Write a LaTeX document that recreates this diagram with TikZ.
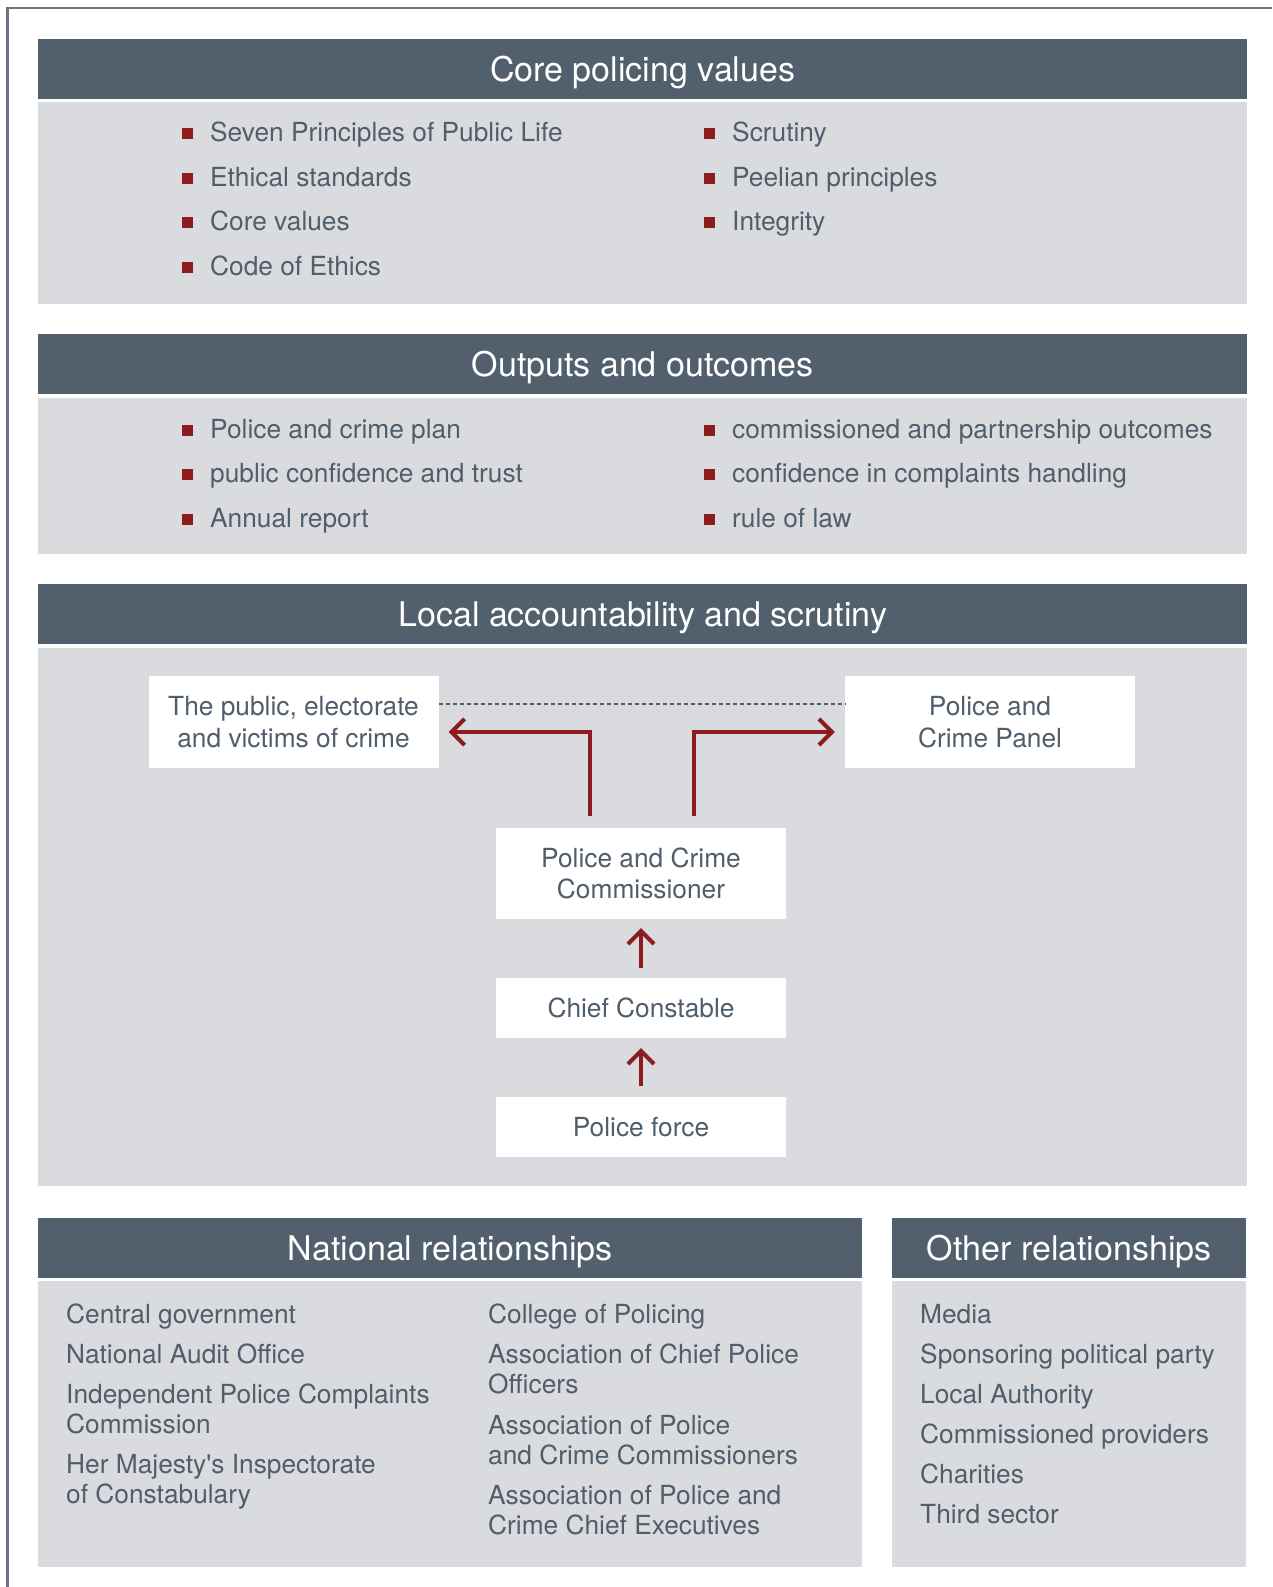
\documentclass[tikz,border=0pt]{standalone}
\usepackage{fontspec}
\setmainfont{TeX Gyre Heros}
\usetikzlibrary{arrows.meta,calc}
\definecolor{slate}{RGB}{80,94,108}
\definecolor{headgrey}{RGB}{82,96,110}
\definecolor{panelgrey}{RGB}{218,219,223}
\definecolor{polred}{RGB}{142,27,30}
\definecolor{framegrey}{RGB}{105,115,128}

\tikzset{
  headbar/.style={fill=headgrey, text=white, font=\fontsize{34}{38}\selectfont, inner sep=0pt, anchor=north west, minimum height=60pt, text height=24.5pt, text depth=0pt},
  panel/.style={fill=panelgrey, inner sep=0pt, anchor=north west},
  listtext/.style={text=slate, font=\fontsize{26.3}{30}\selectfont, inner sep=0pt, anchor=base west, align=left},
  whitebox/.style={fill=white, text=slate, font=\fontsize{26.3}{31.5}\selectfont, align=center, inner sep=0pt, minimum width=290pt},
  redarrow/.style={draw=polred, line width=4pt, -{Straight Barb[length=13pt,width=26pt]}},
}

\begin{document}
\begin{tikzpicture}[x=1pt,y=-1pt]
\useasboundingbox (0,0) rectangle (1272,1587);
\draw[framegrey, line width=2.5pt] (7.5,1587) |- (1272,8);

% core values
\node[headbar, minimum width=1209pt] (corehead) at (38,39) {Core policing values};
\node[panel, minimum width=1209pt, minimum height=202pt] (corebody) at (38,102) {};
\foreach \txt [count=\i from 0] in {Seven Principles of Public Life, Ethical standards, Core values, Code of Ethics} {
  \fill[polred] (181.5,{128+44.5*\i}) rectangle ++(11,11);
  \node[listtext] (corel\i) at (210,{141.7+44.5*\i}) {\txt};
}
\foreach \txt [count=\i from 0] in {Scrutiny, Peelian principles, Integrity} {
  \fill[polred] (703.5,{128+44.5*\i}) rectangle ++(11,11);
  \node[listtext] (corer\i) at (732,{141.7+44.5*\i}) {\txt};
}

% outputs
\node[headbar, minimum width=1209pt] (outhead) at (38,334) {Outputs and outcomes};
\node[panel, minimum width=1209pt, minimum height=156pt] (outbody) at (38,398) {};
\foreach \txt [count=\i from 0] in {Police and crime plan, public confidence and trust, Annual report} {
  \fill[polred] (181.5,{424.5+44.5*\i}) rectangle ++(11,11);
  \node[listtext] (outl\i) at (210,{438.2+44.5*\i}) {\txt};
}
\foreach \txt [count=\i from 0] in {commissioned and partnership outcomes, confidence in complaints handling, rule of law} {
  \fill[polred] (703.5,{424.5+44.5*\i}) rectangle ++(11,11);
  \node[listtext] (outr\i) at (732,{438.2+44.5*\i}) {\txt};
}

% local accountability
\node[headbar, minimum width=1209pt] (lochead) at (38,584) {Local accountability and scrutiny};
\node[panel, minimum width=1209pt, minimum height=538pt] (locbody) at (38,648) {};
\node[whitebox, minimum height=92pt] (pub) at (293.5,722) {The public, electorate\\and victims of crime};
\node[whitebox, minimum height=92pt] (pcp) at (990,722) {Police and\\Crime Panel};
\node[whitebox, minimum height=91pt] (pcc) at (641,873.5) {Police and Crime\\Commissioner};
\node[whitebox, minimum height=60pt] (cc) at (641,1008) {Chief Constable};
\node[whitebox, minimum height=60pt] (pf) at (641,1127) {Police force};
\draw[slate, dash pattern=on 4pt off 3pt, line width=2pt] ([yshift=18pt]pub.east) -- ([yshift=18pt]pcp.west);
\draw[redarrow] ([xshift=-51pt,yshift=12pt]pcc.north) |- ([xshift=10pt,yshift=-10pt]pub.east);
\draw[redarrow] ([xshift=53pt,yshift=12pt]pcc.north) |- ([xshift=-10pt,yshift=-10pt]pcp.west);
\draw[redarrow, shorten <=10pt, shorten >=9pt] (cc) -- (pcc);
\draw[redarrow, shorten <=11pt, shorten >=10pt] (pf) -- (cc);

% national and other
\node[headbar, minimum width=824pt] (nathead) at (38,1218) {National relationships};
\node[panel, minimum width=824pt, minimum height=286pt] (natbody) at (38,1281) {};
\node[headbar, minimum width=354pt] (othhead) at (892,1218) {Other relationships};
\node[panel, minimum width=354pt, minimum height=286pt] (othbody) at (892,1281) {};
\node[listtext] (nat1) at (66,1323.3) {Central government};
\node[listtext] (nat2) at (66,1363.3) {National Audit Office};
\node[listtext] (nat3) at (66,1433.3) {Independent Police Complaints\\Commission};
\node[listtext] (nat4) at (66,1503.3) {Her Majesty\textquotesingle s Inspectorate\\of Constabulary};
\node[listtext] (nat5) at (488,1323.3) {College of Policing};
\node[listtext] (nat6) at (488,1393.3) {Association of Chief Police\\Officers};
\node[listtext] (nat7) at (488,1464) {Association of Police\\and Crime Commissioners};
\node[listtext] (nat8) at (488,1534) {Association of Police and\\Crime Chief Executives};
\foreach \txt [count=\i from 0] in {Media, Sponsoring political party, Local Authority, Commissioned providers, Charities, Third sector} {
  \node[listtext] (oth\i) at (920,{1323.3+40*\i}) {\txt};
}
\end{tikzpicture}
\end{document}
